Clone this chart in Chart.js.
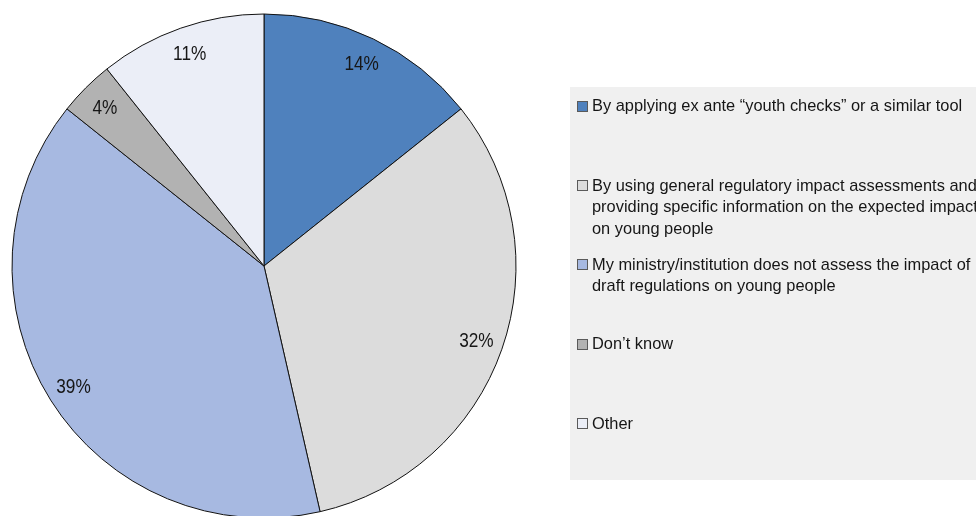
<!DOCTYPE html>
<html>
<head>
<meta charset="utf-8">
<script src="https://cdn.jsdelivr.net/npm/chart.js@4/dist/chart.umd.min.js"></script>
<style>
  html, body { margin: 0; padding: 0; background: #fff; overflow: hidden; }
  #wrap { position: relative; width: 976px; height: 520px; }
</style>
</head>
<body>
<div id="wrap"><canvas id="c" width="976" height="520"></canvas></div>
<script>
// Survey responses (number of ministries/institutions per answer)
const categories = [
  ["By applying ex ante \u201cyouth checks\u201d or a similar tool"],
  ["By using general regulatory impact assessments and",
   "providing specific information on the expected impact",
   "on young people"],
  ["My ministry/institution does not assess the impact of",
   "draft regulations on young people"],
  ["Don\u2019t know"],
  ["Other"]
];
const responses = [4, 9, 11, 1, 3];
const sliceColors = ["#4F81BD", "#DCDCDC", "#A7B9E1", "#B2B2B2", "#EBEEF7"];

const FONT = '"Liberation Sans", Arial, sans-serif';

// Draws text squeezed horizontally to get a condensed face
function condensedText(ctx, text, x, y, sx) {
  ctx.save();
  ctx.translate(x, y);
  ctx.scale(sx, 1);
  ctx.fillText(text, 0, 0);
  ctx.restore();
}

// Percentage labels placed near the outer edge of each slice
const sliceLabels = {
  id: 'sliceLabels',
  afterDatasetsDraw(chart) {
    const ctx = chart.ctx;
    const meta = chart.getDatasetMeta(0);
    const data = chart.data.datasets[0].data;
    const total = data.reduce((a, b) => a + b, 0);
    ctx.save();
    ctx.font = '21px ' + FONT;
    ctx.fillStyle = '#161616';
    ctx.textAlign = 'center';
    ctx.textBaseline = 'middle';
    meta.data.forEach((arc, i) => {
      const p = arc.getProps(['x', 'y', 'startAngle', 'endAngle', 'outerRadius'], true);
      const mid = (p.startAngle + p.endAngle) / 2;
      const r = p.outerRadius - 27;
      const pct = Math.round(data[i] / total * 100) + '%';
      condensedText(ctx, pct, p.x + Math.cos(mid) * r, p.y + Math.sin(mid) * r + 1, 0.82);
    });
    ctx.restore();
  }
};

// Legend panel on the right, with wrapped entry text
const sideLegend = {
  id: 'sideLegend',
  afterDraw(chart) {
    const ctx = chart.ctx;
    const ds = chart.data.datasets[0];
    const boxX = 570, boxY = 87, boxW = 420, boxH = 393;
    ctx.save();
    ctx.fillStyle = '#F0F0F0';
    ctx.fillRect(boxX, boxY, boxW, boxH);
    ctx.font = '17px ' + FONT;
    ctx.textBaseline = 'middle';
    ctx.textAlign = 'left';
    const firstY = 105.5, step = 79.4, lineH = 21.5;
    chart.data.labels.forEach((lines, i) => {
      const y = firstY + i * step;
      ctx.fillStyle = ds.backgroundColor[i];
      ctx.fillRect(578, Math.round(y) - 4, 9, 9);
      ctx.strokeStyle = '#5a5a5a';
      ctx.lineWidth = 1;
      ctx.strokeRect(577.5, Math.round(y) - 4.5, 10, 10);
      ctx.fillStyle = '#161616';
      lines.forEach((t, k) => condensedText(ctx, t, 592, y + k * lineH + 1, 0.965));
    });
    ctx.restore();
  }
};

new Chart(document.getElementById('c'), {
  type: 'pie',
  data: {
    labels: categories,
    datasets: [{
      data: responses,
      backgroundColor: sliceColors,
      borderColor: '#111',
      borderWidth: 1
    }]
  },
  options: {
    responsive: false,
    animation: false,
    radius: 252,
    layout: { padding: { left: 12, right: 460, top: 14, bottom: 2 } },
    plugins: {
      legend: { display: false },
      tooltip: { enabled: false }
    }
  },
  plugins: [sliceLabels, sideLegend]
});
</script>
</body>
</html>
